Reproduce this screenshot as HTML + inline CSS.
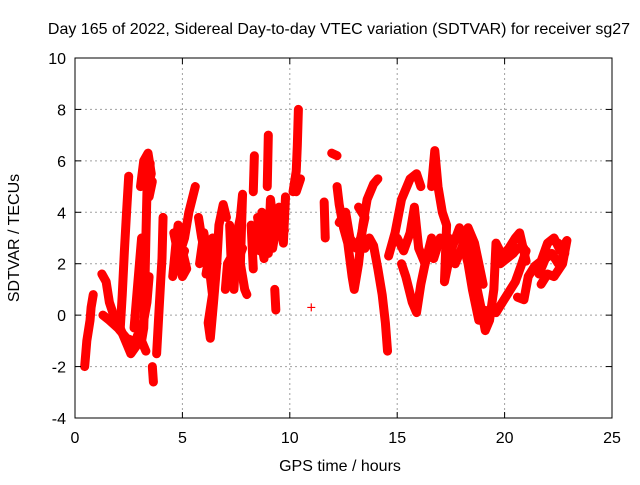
<!DOCTYPE html>
<html><head><meta charset="utf-8"><style>
body{margin:0;background:#fff}
svg text{font-family:"Liberation Sans",sans-serif;font-size:16px;fill:#000}
</style></head><body>
<svg id="chart" width="640" height="480">
<rect width="640" height="480" fill="#fff"/>
<g id="grid"></g><g id="series"></g><g id="axes"></g>
<text x="339" y="34" text-anchor="middle">Day 165 of 2022, Sidereal Day-to-day VTEC variation (SDTVAR) for receiver sg27</text>
<text x="340" y="471" text-anchor="middle">GPS time / hours</text>
<text transform="translate(19,238) rotate(-90)" text-anchor="middle">SDTVAR / TECUs</text>
</svg>
<script>
const xTicks=[0,5,10,15,20,25];
const yTicks=[-4,-2,0,2,4,6,8,10];
const trackA=[[0.45,-2],[0.55,-1],[0.7,-0.2],[0.75,0.3],[0.85,0.8]];
const trackB=[[1.25,1.6],[1.45,1.3],[1.6,0.5],[1.8,0],[2.0,-0.3],[2.2,-0.7],[2.4,-1.1],[2.6,-1.5],[2.85,-1.2],[2.9,-0.8]];
const trackB2=[[1.3,0],[1.6,-0.2],[2.0,-0.5],[2.4,-0.9],[2.7,-1.0]];
const trackC=[[2.1,-0.6],[2.2,0.8],[2.3,2.5],[2.4,4.0],[2.5,5.4]];
const trackD=[[2.75,-0.5],[2.9,1.0],[3.0,2.0],[3.1,3.0]];
const trackE=[[3.05,5.0],[3.2,6.0],[3.4,6.3],[3.55,5.5],[3.35,4.8],[3.3,3.0],[3.25,1.0],[3.2,-0.5],[3.1,-1.0],[3.3,-1.4]];
const trackE2=[[3.2,5.5],[3.5,5.9],[3.45,4.6],[3.6,5.2]];
const trackE3=[[3.0,-0.8],[3.2,-0.2],[3.35,0.5],[3.45,1.5]];
const trackF=[[3.6,-2.0],[3.65,-2.6]];
const trackG=[[3.8,-1.5],[3.9,0],[4.0,1.5],[4.05,2.2],[4.1,3.8]];
const trackH=[[4.55,1.5],[4.7,2.8],[4.8,3.5],[5.0,2.5],[5.2,1.8],[5.0,1.5],[4.8,2.2],[5.1,3.0],[5.3,4.0],[5.6,5.0]];
const trackH2=[[4.6,3.2],[4.9,2.0],[5.1,2.5],[4.7,1.8],[4.9,3.0]];
const trackI=[[5.75,3.8],[5.9,3.0],[6.1,2.3],[6.3,1.5],[6.4,0.8],[6.2,-0.3],[6.3,-0.9],[6.45,0.5],[6.6,2.0],[6.7,3.5],[6.9,4.3],[7.05,3.8]];
const trackI2=[[5.8,2.0],[6.0,3.2],[6.2,2.0],[6.4,3.0],[6.1,1.6]];
const trackK=[[7.0,1.0],[7.1,2.0],[7.3,2.3],[7.5,3.0],[7.7,3.8],[7.8,4.7],[7.7,2.0],[7.9,1.0],[8.0,0.8]];
const trackK2=[[7.4,1.0],[7.5,2.6],[7.6,2.0],[7.2,3.5],[7.3,1.5],[7.8,2.6]];
const trackM=[[8.6,2.5],[8.7,4.0],[8.8,3.3],[9.0,2.4],[9.1,4.5],[9.3,3.2],[9.5,4.2],[9.7,2.8],[9.8,4.6]];
const trackM1=[[8.5,3.8],[8.8,2.2],[9.0,3.8],[9.2,2.6],[9.4,3.6],[9.6,3.8],[9.75,3.3]];
const trackM2=[[8.95,5.0],[9.0,7.0]];
const trackM3=[[8.3,4.8],[8.35,6.2]];
const trackM4=[[9.3,1.0],[9.35,0.2]];
const trackM5=[[8.2,3.5],[8.3,1.8]];
const trackN=[[10.15,4.8],[10.3,5.6],[10.35,6.6],[10.4,8.0]];
const trackN2=[[10.3,4.8],[10.5,5.3]];
const trackS=[[11.0,0.3]];
const trackO=[[11.6,4.4],[11.65,3.0]];
const trackP=[[11.95,6.3],[12.2,6.2]];
const trackQ1=[[12.2,5.0],[12.3,4.3],[12.5,3.4],[12.7,2.8],[12.9,1.5],[13.0,1.0],[13.2,2.0],[13.4,3.5],[13.6,4.5],[13.9,5.1],[14.1,5.3]];
const trackQ1b=[[12.3,3.6],[12.6,4.0],[12.8,3.0],[13.1,2.6],[13.3,3.0],[13.5,3.8],[13.2,4.2]];
const trackQ2=[[13.5,2.6],[13.7,3.0],[13.9,2.7],[14.1,1.8],[14.3,0.8],[14.45,-0.3],[14.55,-1.4]];
const trackQ3=[[14.6,2.3],[14.9,3.2],[15.2,4.5],[15.6,5.3],[15.9,5.5],[16.1,5.0]];
const trackQ4=[[15.2,2.0],[15.4,1.5],[15.7,0.5],[15.9,0.1],[16.1,1.2],[16.4,2.4],[16.7,2.2],[17.0,3.0]];
const trackQ4b=[[15.0,3.0],[15.3,2.5],[15.6,3.2],[15.8,4.2],[16.0,2.6],[16.3,2.0],[16.6,3.0]];
const trackQ5=[[16.6,5.0],[16.75,6.4],[16.9,5.0],[17.1,4.0],[17.3,3.5],[17.2,1.3],[17.5,2.5],[17.9,3.4],[18.2,3.0],[18.4,2.6],[18.6,1.5],[18.9,0.3],[19.1,-0.6],[19.3,-0.2],[19.5,1.0],[19.6,2.8],[19.9,2.3],[20.2,2.6],[20.5,3.0],[20.7,3.2],[21.0,2.1]];
const trackQ5b=[[17.4,3.0],[17.7,2.0],[18.0,2.6],[18.3,3.4],[18.6,2.8],[18.8,2.0],[19.0,1.2]];
const trackQ6=[[18.0,3.0],[18.3,2.0],[18.5,1.0],[18.8,-0.2],[19.0,0.2],[19.6,0.1],[19.9,0.5],[20.2,0.9],[20.5,1.3],[20.8,2.0],[21.0,2.5]];
const trackQ6b=[[19.8,2.0],[20.1,2.2],[20.4,2.4],[20.6,2.6],[20.9,2.6]];
const trackQ7=[[20.6,0.7],[20.9,0.6],[21.1,1.5],[21.4,1.9],[21.7,2.1],[22.0,2.8],[22.3,3.0],[22.6,2.5],[22.9,2.9],[22.7,2.0],[22.3,1.5],[22.0,1.6],[21.7,1.2]];
const trackQ7b=[[21.6,1.6],[21.9,2.2],[22.2,2.4],[22.5,2.0],[22.8,2.4],[22.5,2.8]];
const tracks=[trackA,trackB,trackB2,trackC,trackD,trackE,trackE2,trackE3,trackF,trackG,trackH,trackH2,trackI,trackI2,trackK,trackK2,trackM,trackM1,trackM2,trackM3,trackM4,trackM5,trackN,trackN2,trackS,trackO,trackP,trackQ1,trackQ1b,trackQ2,trackQ3,trackQ4,trackQ4b,trackQ5,trackQ5b,trackQ6,trackQ6b,trackQ7,trackQ7b];

const L=75,R=612,T=58,B=418;
const xs=t=>L+(t-0)/25*(R-L);
const ys=v=>B-(v+4)/14*(B-T);
const NS='http://www.w3.org/2000/svg';
function mk(tag,attrs,parent){const e=document.createElementNS(NS,tag);for(const k in attrs)e.setAttribute(k,attrs[k]);parent.appendChild(e);return e;}
const grid=document.getElementById('grid'),axes=document.getElementById('axes'),ser=document.getElementById('series');
xTicks.forEach(t=>{const x=xs(t);
 if(t>0&&t<25){const g=mk('line',{x1:x,x2:x,y1:T,y2:B,stroke:'#a0a0a0','stroke-dasharray':'2,3'},grid);
 
 }
 mk('line',{x1:x,x2:x,y1:B,y2:B-6,stroke:'#000'},axes);
 mk('line',{x1:x,x2:x,y1:T,y2:T+6,stroke:'#000'},axes);
 const tx=mk('text',{x:x,y:B+25,'text-anchor':'middle'},axes);tx.textContent=t;
 
 
});
yTicks.forEach(v=>{const y=ys(v);
 if(v>-4&&v<10){const g=mk('line',{x1:L,x2:R,y1:y,y2:y,stroke:'#a0a0a0','stroke-dasharray':'2,3'},grid);
 
 }
 mk('line',{x1:L,x2:L+6,y1:y,y2:y,stroke:'#000'},axes);
 mk('line',{x1:R,x2:R-6,y1:y,y2:y,stroke:'#000'},axes);
 const tx=mk('text',{x:L-9,y:y+6,'text-anchor':'end'},axes);tx.textContent=v;
 
 
});
const frame=mk('rect',{x:L,y:T,width:R-L,height:B-T,fill:'none',stroke:'#000'},axes);


tracks.forEach(tr=>{
 const pl=mk('polyline',{points:tr.map(p=>xs(p[0])+','+ys(p[1])).join(' '),fill:'none',stroke:'#ff0000','stroke-width':9,'stroke-linejoin':'round','stroke-linecap':'round'},ser);
 
 
 tr.forEach(p=>{const x=xs(p[0]),y=ys(p[1]);
  const m=mk('path',{d:`M${x-4},${y}H${x+4}M${x},${y-4}V${y+4}`,stroke:'#ff0000','stroke-width':1.2},ser);
  
  
 });
});
</script>
</body></html>
